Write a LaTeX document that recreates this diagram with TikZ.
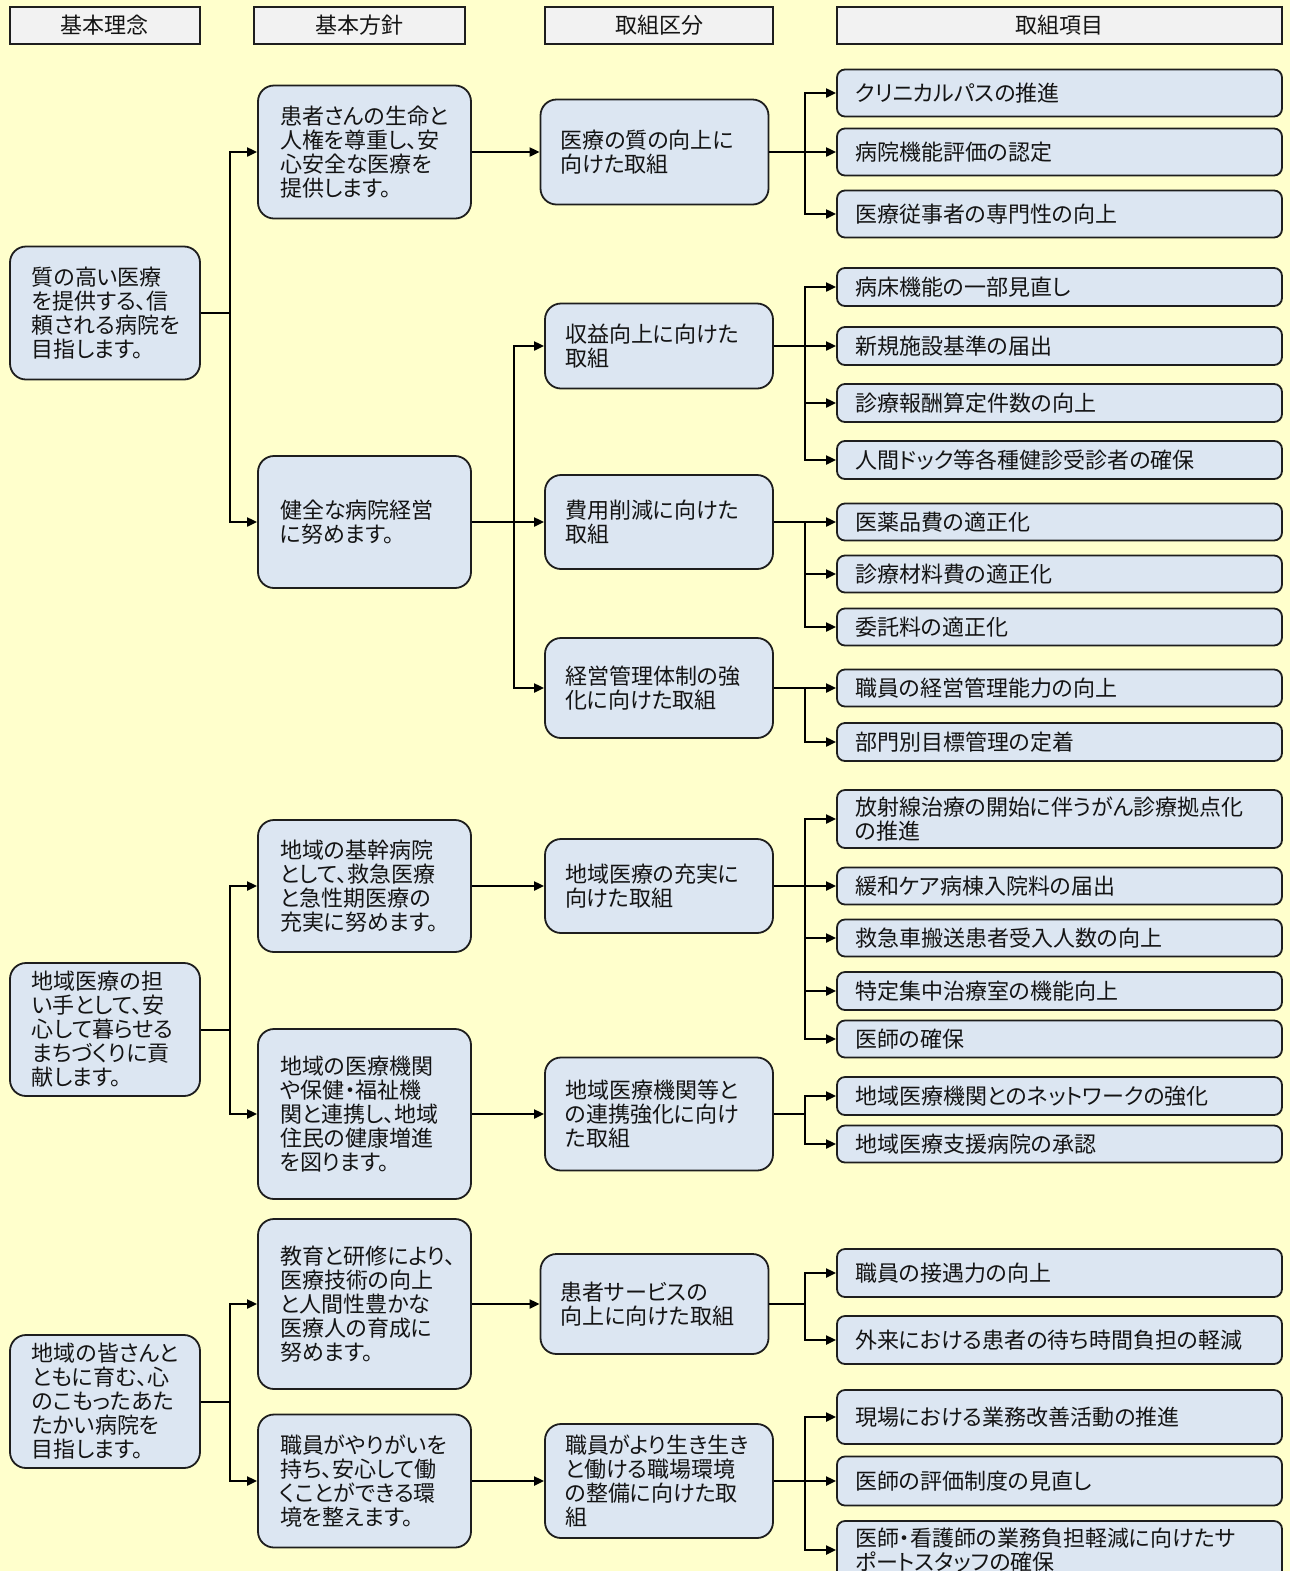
\documentclass[tikz,border=0pt]{standalone}
\usepackage{fontspec}
\setmainfont{Noto Sans CJK JP}[RawFeature=+palt]
\usepackage{tikz}
\usetikzlibrary{arrows.meta}
\usetikzlibrary{positioning}
\definecolor{bgyellow}{RGB}{255,255,204}
\definecolor{boxblue}{RGB}{220,230,242}
\definecolor{headgray}{RGB}{242,242,242}
\definecolor{edgegray}{RGB}{30,30,30}
\hfuzz=40pt

\begin{document}
\begin{tikzpicture}[
			x=0.5pt, y=-0.5pt,
			every node/.style={font=\fontsize{11}{12}\selectfont, text=black!92},
			head/.style={rectangle, draw=edgegray, line width=0.8pt, fill=headgray, minimum height=18.5pt, inner sep=0pt},
			card/.style={rectangle, rounded corners=8pt, draw=edgegray, line width=0.9pt, fill=boxblue, inner ysep=0pt, align=left},
			rinen/.style={card, inner xsep=11pt, text width=73pt},
			hoshin/.style={card, inner xsep=11pt, text width=84.5pt},
			kubun/.style={card, inner xsep=10pt, text width=94pt},
			koumoku/.style={card, rounded corners=4pt, inner xsep=9pt, text width=204.5pt},
			arrow/.style={-{Triangle[length=5pt,width=4.5pt]}, line width=1pt, draw=black}
		]

		\useasboundingbox[fill=bgyellow] (0,0) rectangle (1290,1571);
		\clip (0,0) rectangle (1290,1571);

		% Column headers
		\node[head, minimum width=95pt] (h1) at (105,25.5) {基本理念};
		\node[head, minimum width=105.5pt] (h2) at (359.5,25.5) {基本方針};
		\node[head, minimum width=114pt] (h3) at (659,25.5) {取組区分};
		\node[head, minimum width=222.5pt] (h4) at (1059.5,25.5) {取組項目};

		% Basic ideas (column 1)
		\node[rinen, minimum height=66.5pt] (a1) at (105,313) {質の高い医療\\を提供する、信\\頼される病院を\\目指します。};
		\node[rinen, minimum height=66.5pt] (a2) at (105,1029.5) {地域医療の担\\い手として、安\\心して暮らせる\\まちづくりに貢\\献します。};
		\node[rinen, minimum height=66.5pt] (a3) at (105,1401.5) {地域の皆さんと\\ともに育む、心\\のこもったあた\\たかい病院を\\目指します。};

		% Basic policies (column 2)
		\node[hoshin, minimum height=66.5pt] (b1) at (364.5,152) {患者さんの生命と\\人権を尊重し、安\\心安全な医療を\\提供します。};
		\node[hoshin, minimum height=66pt] (b2) at (364.5,522) {健全な病院経営\\に努めます。};
		\node[hoshin, minimum height=66pt] (b3) at (364.5,886) {地域の基幹病院\\として、救急医療\\と急性期医療の\\充実に努めます。};
		\node[hoshin, minimum height=85pt] (b4) at (364.5,1114) {地域の医療機関\\や保健・福祉機\\関と連携し、地域\\住民の健康増進\\を図ります。};
		\node[hoshin, minimum height=85pt] (b5) at (364.5,1304) {教育と研修により、\\医療技術の向上\\と人間性豊かな\\医療人の育成に\\努めます。};
		\node[hoshin, minimum height=66.5pt] (b6) at (364.5,1481) {職員がやりがいを\\持ち、安心して働\\くことができる環\\境を整えます。};

		% Action areas (column 3)
		\node[kubun, minimum height=52.5pt] (c1) at (654.5,152) {医療の質の向上に\\向けた取組};
		\node[kubun, minimum height=42.5pt] (c2) at (659,346) {収益向上に向けた\\取組};
		\node[kubun, minimum height=47pt] (c3) at (659,522) {費用削減に向けた\\取組};
		\node[kubun, minimum height=50pt] (c4) at (659,688) {経営管理体制の強\\化に向けた取組};
		\node[kubun, minimum height=47pt] (c5) at (659,886) {地域医療の充実に\\向けた取組};
		\node[kubun, minimum height=56.5pt] (c6) at (659,1114) {地域医療機関等と\\の連携強化に向け\\た取組};
		\node[kubun, minimum height=50pt] (c7) at (654.5,1304) {患者サービスの\\向上に向けた取組};
		\node[kubun, minimum height=57pt] (c8) at (659,1481) {職員がより生き生き\\と働ける職場環境\\の整備に向けた取\\組};

		% Action items (column 4)
		\foreach \n/\y/\h/\t in {
				1/93/23.5/{クリニカルパスの推進},
				2/152/23.5/{病院機能評価の認定},
				3/214/23.5/{医療従事者の専門性の向上},
				4/287/19/{病床機能の一部見直し},
				5/346/19/{新規施設基準の届出},
				6/403/19/{診療報酬算定件数の向上},
				7/460/19/{人間ドック等各種健診受診者の確保},
				8/522/18.5/{医薬品費の適正化},
				9/574/18.5/{診療材料費の適正化},
				10/627/18.5/{委託料の適正化},
				11/688/18.5/{職員の経営管理能力の向上},
				12/742/19/{部門別目標管理の定着},
				13/819/29/{放射線治療の開始に伴うがん診療拠点化\\の推進},
				14/886/18.5/{緩和ケア病棟入院料の届出},
				15/938/18.5/{救急車搬送患者受入人数の向上},
				16/991/19/{特定集中治療室の機能向上},
				17/1039/18.5/{医師の確保},
				18/1096/19/{地域医療機関とのネットワークの強化},
				19/1144/18.5/{地域医療支援病院の承認},
				20/1273/24/{職員の接遇力の向上},
				21/1340/24/{外来における患者の待ち時間負担の軽減},
				22/1417/27/{現場における業務改善活動の推進},
				23/1481/24.5/{医師の評価制度の見直し},
				24/1550/29/{医師・看護師の業務負担軽減に向けたサ\\ポートスタッフの確保}}
			\node[koumoku, minimum height=\h pt] (d\n) at (1059.5,\y) {\t};

		% Trunk positions
		\coordinate (t1) at (230,0);
		\coordinate (t2) at (514,0);
		\coordinate (t3) at (805,0);

		% Ideas -> policies
		\foreach \a/\b in {a1/b1,a1/b2,a2/b3,a2/b4,a3/b5,a3/b6}
			\draw[arrow] (\a) -- (\a -| t1) |- (\b);

		% Policies -> action areas
		\foreach \b/\c in {b1/c1,b3/c5,b4/c6,b5/c7,b6/c8}
			\draw[arrow] (\b) -- (\c);
		\foreach \c in {c2,c3,c4}
			\draw[arrow] (b2) -- (b2 -| t2) |- (\c);

		% Action areas -> action items
		\foreach \c/\d in {c1/d1,c1/d2,c1/d3,c2/d4,c2/d5,c2/d6,c2/d7,c3/d8,c3/d9,c3/d10,c4/d11,c4/d12,
				c5/d13,c5/d14,c5/d15,c5/d16,c5/d17,c6/d18,c6/d19,c7/d20,c7/d21,c8/d22,c8/d23,c8/d24}
			\draw[arrow] (\c) -- (\c -| t3) |- (\d);

	\end{tikzpicture}
\end{document}
